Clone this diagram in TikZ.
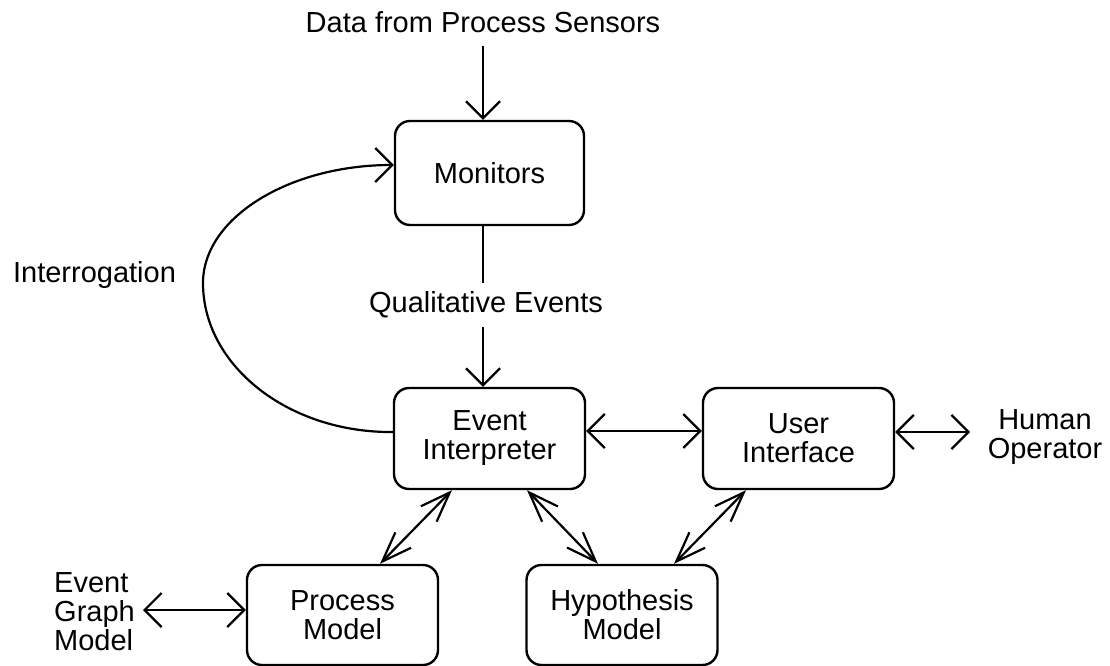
\documentclass[tikz,border=0pt]{standalone}
\usepackage{fontspec}
\setmainfont{Liberation Sans}
\usetikzlibrary{arrows.meta}
\tikzset{
  box/.style={draw, line width=2.4pt, rounded corners=15pt, align=center,
              minimum width=191pt, minimum height=101pt, inner sep=0pt},
  lbl/.style={align=center, inner sep=0pt},
  conn/.style={line width=2.2pt},
  % wide barbs for straight runs, long narrow barbs for slanted runs
  barb/.tip={Straight Barb[length=17pt,width=34pt,line width=2.2pt]},
  slant/.tip={Straight Barb[length=30pt,width=22pt,line width=2.2pt]},
  tip/.style={-barb},
  both/.style={barb-barb},
  bothslant/.style={slant-slant},
}
\begin{document}
\begin{tikzpicture}[x=1pt, y=-1pt, font=\fontsize{29}{29}\selectfont]
\useasboundingbox (0,0) rectangle (1110,666);

% main blocks
\node[box, minimum width=189pt, minimum height=104pt] (mon) at (489.5,173) {Monitors};
\node[box] (ei) at (489.5,438.5) {Event\\Interpreter};
\node[box] (ui) at (798.5,438.5) {User\\Interface};
\node[box, minimum height=100pt] (pm) at (342.5,615) {Process\\Model};
\node[box, minimum height=100pt] (hm) at (622,615) {Hypothesis\\Model};

% free labels
\node[lbl] (data) at (483,22) {Data from Process Sensors};
\node[lbl, minimum height=43pt] (qe) at (486,305) {Qualitative Events};
\node[lbl] (intr) at (94.5,275) {Interrogation};
\node[lbl] (human) at (1045,437.5) {Human\\Operator};
\node[lbl, align=left, anchor=west] (egm) at (54,612) {Event\\Graph\\Model};

% free ends of connectors
\coordinate (din) at (483,46);
\coordinate (hout) at (970,432);
\coordinate (gout) at (143,610);
\coordinate (loopleft) at (203,283);

% sensor data into the monitors
\draw[conn, tip] (din) -- ([xshift=-6.5pt]mon.north);

% qualitative events down to the interpreter
\draw[conn] ([xshift=-6.5pt]mon.south) -- ([xshift=-6.5pt]mon.south |- qe.north);
\draw[conn, tip] ([xshift=-6.5pt]mon.south |- qe.south) -- ([xshift=-6.5pt]ei.north);

% interrogation loop back to the monitors
\draw[conn, tip] ([yshift=6.5pt]ei.west) .. controls (289,433) and (203,366) .. (loopleft)
  .. controls (203,218) and (289,165) .. ([yshift=8pt]mon.west);

% two-way links
\draw[conn, both] ([yshift=7.5pt]ei.east) -- ([yshift=7.5pt]ui.west);
\draw[conn, both] ([yshift=6.5pt]ui.east) -- (hout);
\draw[conn, both] (gout) -- ([yshift=5pt]pm.west);
\draw[conn, bothslant] ([xshift=-37.5pt]ei.south) -- ([xshift=37.5pt]pm.north);
\draw[conn, bothslant] ([xshift=37.5pt]ei.south) -- ([xshift=-24pt]hm.north);
\draw[conn, bothslant] ([xshift=-52.5pt]ui.south) -- ([xshift=52pt]hm.north);
\end{tikzpicture}
\end{document}
